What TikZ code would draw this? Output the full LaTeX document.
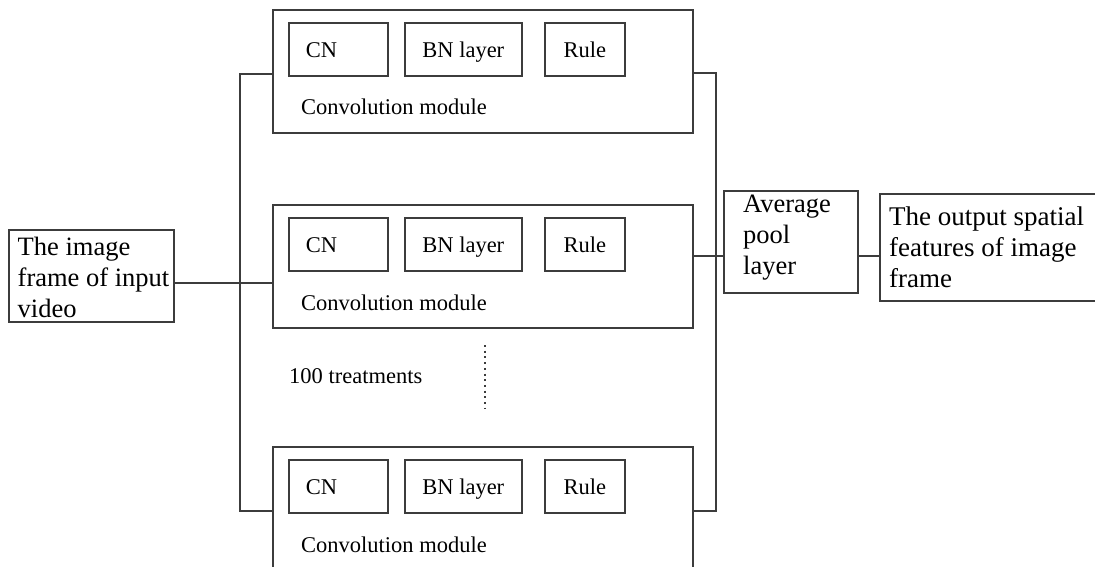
\documentclass[tikz,border=0pt]{standalone}
\usepackage{fontspec}
\setmainfont{Liberation Serif}
\usepackage{xcolor}
\usepackage{tikz}

\definecolor{linegray}{HTML}{3C3C3C}

\tikzset{
  box/.style={draw=linegray, line width=1.6pt, inner sep=0pt},
  inbox/.style={box, minimum height=53pt, text height=20pt, text depth=3pt, font=\fontsize{22.5}{26}\selectfont},
  bigtext/.style={inner sep=0pt, align=left, font=\fontsize{26.5}{31}\selectfont},
  smalltext/.style={inner sep=0pt, font=\fontsize{22.5}{26}\selectfont},
  wire/.style={draw=linegray, line width=1.6pt}
}

\begin{document}
\begin{tikzpicture}[x=1pt, y=-1pt]
\useasboundingbox (0,0) rectangle (1095,567);

% Input frame
\node[box, minimum width=165pt, minimum height=92pt, anchor=north west] (input) at (8,229) {};
\node[bigtext, anchor=north west] (inputtxt) at (17.5,237) {The image\\frame of input\\video};

% Convolution modules
\foreach \n/\t in {1/9, 2/204, 3/446} {
    \node[box, minimum width=420pt, minimum height=123pt, anchor=north west] (mod\n) at (272,\t) {};
    \node[inbox, minimum width=99pt, text width=65pt, inner xsep=17pt, align=left, anchor=north west] (cn\n) at (288,\t+13) {CN};
    \node[inbox, minimum width=117pt, anchor=north west] (bn\n) at (404,\t+13) {BN layer};
    \node[inbox, minimum width=80pt, anchor=north west] (rule\n) at (544,\t+13) {Rule};
    \node[smalltext, anchor=base west] (lab\n) at (301,\t+106) {Convolution module};
}

% Repetition hint
\node[smalltext, anchor=base west] (reps) at (289,383) {100 treatments};
\coordinate (dottop) at (485,345);
\coordinate (dotbot) at (485,409);
\draw[draw=linegray, line width=2pt, dash pattern=on 2pt off 3.7pt] (dottop) -- (dotbot);

% Pooling and output
\node[box, minimum width=134pt, minimum height=102pt, anchor=north west] (pool) at (723,190) {};
\node[bigtext, anchor=north west] (pooltxt) at (743,195) {Average\\pool\\layer};
\node[box, minimum width=225pt, minimum height=107pt, anchor=north west] (out) at (879,193) {};
\node[bigtext, anchor=north west, font=\fontsize{27}{31}\selectfont] (outtxt) at (889,207) {The output spatial\\features of image\\frame};

% Buses
\coordinate (lbtop) at (240,74);
\coordinate (lbbot) at (240,511);
\coordinate (rbtop) at (716,73);
\coordinate (rbbot) at (716,511);
\draw[wire] (mod1.west |- lbtop) -- (lbtop) -- (lbbot) -- (mod3.west |- lbbot);
\draw[wire] (mod1.east |- rbtop) -- (rbtop) -- (rbbot) -- (mod3.east |- rbbot);

% Links
\draw[wire] (input.east |- 0,283) -- (mod2.west |- 0,283);
\draw[wire] (mod2.east |- 0,256) -- (pool.west |- 0,256);
\draw[wire] (pool.east |- 0,256) -- (out.west |- 0,256);

\end{tikzpicture}
\end{document}
